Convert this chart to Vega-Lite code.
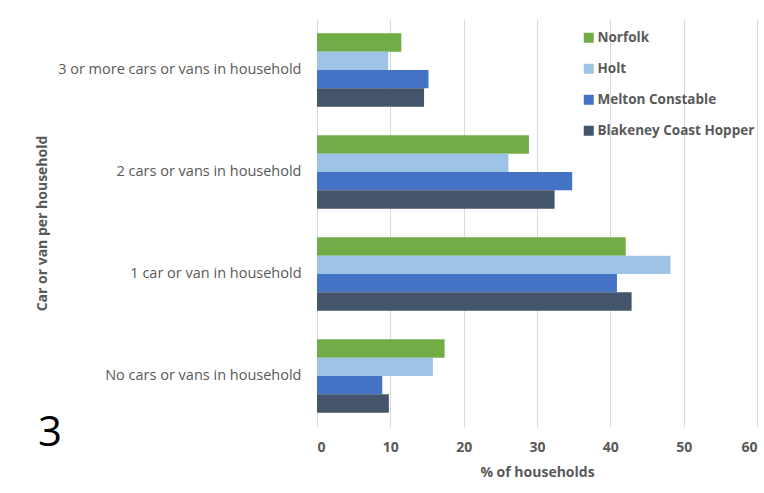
{
  "$schema": "https://vega.github.io/schema/vega-lite/v6.json",
  "width": 440,
  "height": 408,
  "autosize": {"type": "none"},
  "padding": {"left": 317, "top": 19, "right": 7, "bottom": 66},
  "background": "white",
  "title": {
    "text": "3",
    "orient": "bottom",
    "anchor": "start",
    "frame": "bounds",
    "font": "Open Sans",
    "fontSize": 42,
    "fontWeight": "normal",
    "color": "#000000",
    "dx": 3,
    "dy": -70
  },
  "data": {
    "values": [
      {"category": "3 or more cars or vans in household", "area": "Norfolk", "pct": 11.5},
      {"category": "3 or more cars or vans in household", "area": "Holt", "pct": 9.7},
      {"category": "3 or more cars or vans in household", "area": "Melton Constable", "pct": 15.2},
      {"category": "3 or more cars or vans in household", "area": "Blakeney Coast Hopper", "pct": 14.6},
      {"category": "2 cars or vans in household", "area": "Norfolk", "pct": 28.9},
      {"category": "2 cars or vans in household", "area": "Holt", "pct": 26.1},
      {"category": "2 cars or vans in household", "area": "Melton Constable", "pct": 34.8},
      {"category": "2 cars or vans in household", "area": "Blakeney Coast Hopper", "pct": 32.4},
      {"category": "1 car or van in household", "area": "Norfolk", "pct": 42.1},
      {"category": "1 car or van in household", "area": "Holt", "pct": 48.2},
      {"category": "1 car or van in household", "area": "Melton Constable", "pct": 40.9},
      {"category": "1 car or van in household", "area": "Blakeney Coast Hopper", "pct": 42.9},
      {"category": "No cars or vans in household", "area": "Norfolk", "pct": 17.4},
      {"category": "No cars or vans in household", "area": "Holt", "pct": 15.8},
      {"category": "No cars or vans in household", "area": "Melton Constable", "pct": 8.9},
      {"category": "No cars or vans in household", "area": "Blakeney Coast Hopper", "pct": 9.8}
    ]
  },
  "mark": {"type": "bar"},
  "encoding": {
    "y": {
      "field": "category",
      "type": "nominal",
      "sort": ["3 or more cars or vans in household", "2 cars or vans in household", "1 car or van in household", "No cars or vans in household"],
      "scale": {"paddingInner": 0.28, "paddingOuter": 0.14},
      "axis": {
        "title": "Car or van per household",
        "titleFont": "Open Sans",
        "titleFontSize": 14,
        "titleFontWeight": "bold",
        "titleColor": "#595959",
        "titleX": -275,
        "titleY": 204,
        "titleAngle": -90,
        "titleAlign": "center",
        "titleBaseline": "middle",
        "labelFont": "Open Sans",
        "labelFontSize": 14.5,
        "labelColor": "#595959",
        "labelPadding": 16,
        "labelLimit": 300,
        "ticks": false,
        "domain": false
      }
    },
    "yOffset": {
      "field": "area",
      "type": "nominal",
      "sort": ["Norfolk", "Holt", "Melton Constable", "Blakeney Coast Hopper"]
    },
    "x": {
      "field": "pct",
      "type": "quantitative",
      "scale": {"domain": [0, 60], "nice": false},
      "axis": {
        "title": "% of households",
        "values": [0, 10, 20, 30, 40, 50, 60],
        "grid": true,
        "gridColor": "#d9d9d9",
        "gridWidth": 1,
        "domain": false,
        "ticks": false,
        "labelFont": "Open Sans",
        "labelFontSize": 14,
        "labelFontWeight": "bold",
        "labelColor": "#595959",
        "labelPadding": 13,
        "titleFont": "Open Sans",
        "titleFontSize": 14,
        "titleFontWeight": "bold",
        "titleColor": "#595959",
        "titleY": 45,
        "titleBaseline": "middle"
      }
    },
    "color": {
      "field": "area",
      "type": "nominal",
      "scale": {
        "domain": ["Norfolk", "Holt", "Melton Constable", "Blakeney Coast Hopper"],
        "range": ["#70AD47", "#9DC3E6", "#4472C4", "#44546A"]
      },
      "legend": {
        "title": null,
        "orient": "none",
        "legendX": 265,
        "legendY": 12,
        "symbolType": "square",
        "symbolSize": 100,
        "symbolStrokeWidth": 0,
        "symbolOpacity": 1,
        "labelFont": "Open Sans",
        "labelFontSize": 13.5,
        "labelFontWeight": "bold",
        "labelColor": "#595959",
        "labelOffset": 2,
        "labelLimit": 300,
        "rowPadding": 16,
        "padding": 0
      }
    }
  },
  "config": {
    "view": {"stroke": null}
  }
}
